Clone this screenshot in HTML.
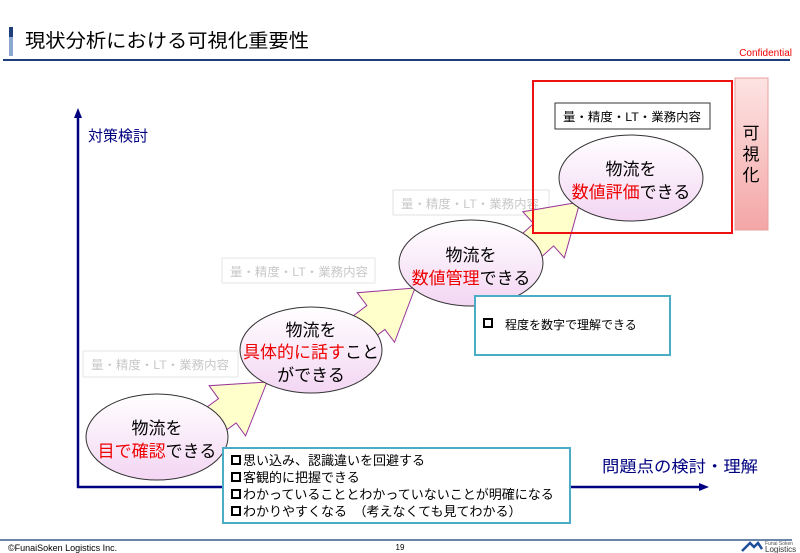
<!DOCTYPE html>
<html><head><meta charset="utf-8"><style>
html,body{margin:0;padding:0;background:#fff}
svg{display:block;font-family:"Liberation Sans","Noto Sans CJK JP",sans-serif}
</style></head><body>
<svg width="800" height="553" viewBox="0 0 800 553" xmlns="http://www.w3.org/2000/svg">
<defs>
<linearGradient id="eg" x1="0" y1="0" x2="0" y2="1"><stop offset="0" stop-color="#ffffff"/><stop offset="1" stop-color="#f3d6f3"/></linearGradient>
<linearGradient id="pg" x1="0" y1="0" x2="0" y2="1"><stop offset="0" stop-color="#fde3e3"/><stop offset="1" stop-color="#f4a6a6"/></linearGradient>
</defs>
<rect x="9" y="27" width="4" height="10" fill="#1f3f7a"/>
<rect x="9" y="37" width="4" height="19" fill="#8aa8d0"/>
<text x="25" y="47" font-size="19" fill="#000" textLength="284" lengthAdjust="spacingAndGlyphs">現状分析における可視化重要性</text>
<rect x="3" y="59" width="787" height="2" fill="#1f3f7a"/>
<text x="792" y="56" font-size="10" fill="#e00" text-anchor="end">Confidential</text>
<line x1="78" y1="118" x2="78" y2="488" stroke="#000080" stroke-width="2.5"/>
<polygon points="78,108 74,118 82,118" fill="#000080"/>
<line x1="77" y1="487" x2="702" y2="487" stroke="#000080" stroke-width="2.5"/>
<polygon points="709,487 699,483 699,491" fill="#000080"/>
<text x="88" y="141" font-size="15" fill="#000080">対策検討</text>
<text x="602" y="472" font-size="16" fill="#000080" textLength="156" lengthAdjust="spacingAndGlyphs">問題点の検討・理解</text>
<g font-size="12" fill="#c8c8c8">
<rect x="83" y="351" width="155" height="26" fill="#fff" stroke="#e6e6e6"/>
<text x="91" y="369" textLength="138" lengthAdjust="spacingAndGlyphs">量・精度・LT・業務内容</text>
<rect x="222" y="258" width="153" height="25" fill="#fff" stroke="#e6e6e6"/>
<text x="230" y="276" textLength="138" lengthAdjust="spacingAndGlyphs">量・精度・LT・業務内容</text>
<rect x="393" y="190" width="156" height="25" fill="#fff" stroke="#e0e0e0"/>
<text x="401" y="208" textLength="138" lengthAdjust="spacingAndGlyphs">量・精度・LT・業務内容</text>
</g>
<rect x="735" y="78" width="33" height="152" fill="url(#pg)" stroke="#e8a0a0"/>
<g font-size="17" fill="#000" text-anchor="middle"><text x="751" y="139">可</text><text x="751" y="160">視</text><text x="751" y="181">化</text></g>
<rect x="555" y="103" width="155" height="26" fill="#fff" stroke="#333"/>
<text x="563" y="121" font-size="12" fill="#000" textLength="138" lengthAdjust="spacingAndGlyphs">量・精度・LT・業務内容</text>
<g fill="#ffffcc" stroke="#993399" stroke-width="1">
<polygon transform="translate(267,382) rotate(-36)" points="0,0 -49,-31 -49,-15 -90,-15 -90,15 -49,15 -49,31"/>
<polygon transform="translate(415,288) rotate(-37)" points="0,0 -49,-31 -49,-15 -90,-15 -90,15 -49,15 -49,31"/>
<polygon transform="translate(580,202) rotate(-42)" points="0,0 -49,-31 -49,-15 -90,-15 -90,15 -49,15 -49,31"/>
</g>
<rect x="533" y="81" width="199" height="152" fill="none" stroke="#ee1111" stroke-width="2"/>
<g fill="url(#eg)" stroke="#333" stroke-width="1">
<ellipse cx="157" cy="437" rx="71" ry="43"/>
<ellipse cx="311" cy="350" rx="71" ry="43"/>
<ellipse cx="471" cy="263" rx="72" ry="43"/>
<ellipse cx="631" cy="178" rx="72" ry="43"/>
</g>
<g font-size="17" fill="#000" text-anchor="middle">
<text x="157" y="434">物流を</text>
<text x="157" y="457"><tspan fill="#ee0000">目で確認</tspan>できる</text>
<text x="311" y="336">物流を</text>
<text x="311" y="358"><tspan fill="#ee0000">具体的に話す</tspan>こと</text>
<text x="311" y="381">ができる</text>
<text x="471" y="261">物流を</text>
<text x="471" y="284"><tspan fill="#ee0000">数値管理</tspan>できる</text>
<text x="631" y="175">物流を</text>
<text x="631" y="198"><tspan fill="#ee0000">数値評価</tspan>できる</text>
</g>
<rect x="475" y="296" width="195" height="59" fill="#fff" stroke="#4bacc6" stroke-width="2"/>
<rect x="484" y="319" width="8" height="8" fill="none" stroke="#000" stroke-width="2"/>
<text x="505" y="329" font-size="12" fill="#000">程度を数字で理解できる</text>
<rect x="223" y="448" width="347" height="75" fill="#fff" stroke="#4bacc6" stroke-width="2"/>
<g font-size="13" fill="#000">
<rect x="232" y="456" width="8" height="8" fill="none" stroke="#000" stroke-width="2"/><text x="243" y="465">思い込み、認識違いを回避する</text>
<rect x="232" y="473" width="8" height="8" fill="none" stroke="#000" stroke-width="2"/><text x="243" y="482">客観的に把握できる</text>
<rect x="232" y="490" width="8" height="8" fill="none" stroke="#000" stroke-width="2"/><text x="243" y="499">わかっていることとわかっていないことが明確になる</text>
<rect x="232" y="507" width="8" height="8" fill="none" stroke="#000" stroke-width="2"/><text x="243" y="516">わかりやすくなる　（考えなくても見てわかる）</text>
</g>
<rect x="0" y="539" width="792" height="2" fill="#6a84a8"/>
<text x="8" y="551" font-size="9" fill="#000">©FunaiSoken Logistics Inc.</text>
<text x="400" y="550" font-size="8" fill="#000" text-anchor="middle">19</text>
<path d="M742,551 L750,543 L754,547 L758,543 L762,549" fill="none" stroke="#1f4f9a" stroke-width="2.5"/>
<text x="765" y="545" font-size="5" fill="#555">Funai Soken</text>
<text x="765" y="552" font-size="8" fill="#333">Logistics</text>
</svg>
</body></html>
